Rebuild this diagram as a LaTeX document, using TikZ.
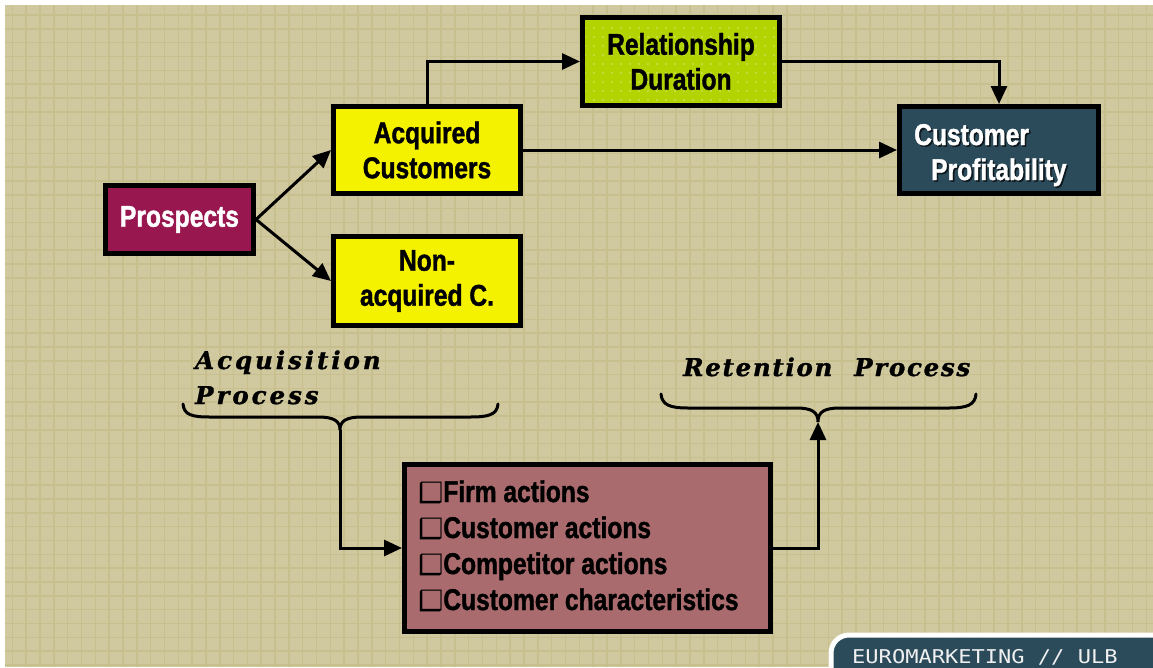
\documentclass[tikz,border=0pt]{standalone}
\usepackage{fontspec}
\usetikzlibrary{arrows.meta,patterns.meta}
\newfontfamily\boxfont[FakeStretch=0.82,FakeBold=1.3]{Liberation Sans}
\newfontfamily\procfont[LetterSpace=12,FakeBold=1.2]{DejaVu Serif}
\newfontfamily\procnarrow[LetterSpace=7,FakeBold=1.2]{DejaVu Serif}
\newfontfamily\symfont{DejaVu Sans}
\newfontfamily\badgefont{DejaVu Sans Mono}
\definecolor{paper}{HTML}{D0C89E}
\definecolor{gridline}{HTML}{C8BF8E}
\definecolor{plum}{HTML}{98174F}
\definecolor{lemon}{HTML}{F5F200}
\definecolor{lime}{HTML}{B3D400}
\definecolor{limedot}{HTML}{D6E87A}
\definecolor{slate}{HTML}{2B4B5A}
\definecolor{rose}{HTML}{AA6B6E}
\tikzset{
  box/.style={draw=black, line width=5pt, inner sep=0pt, align=center,
    font=\boxfont\bfseries\fontsize{30}{35}\selectfont},
  conn/.style={line width=3pt, -{Triangle[length=18pt,width=16pt]}},
  brace/.style={line width=3pt, line cap=round},
  proc/.style={font=\procfont\bfseries\itshape\fontsize{24.5}{35}\selectfont, anchor=base west, inner sep=0pt},
  procn/.style={font=\procnarrow\bfseries\itshape\fontsize{24.5}{35}\selectfont, anchor=base west, inner sep=0pt},
  item/.style={font=\boxfont\bfseries\fontsize{30}{36}\selectfont, anchor=base west, inner sep=0pt},
  lbl/.style={font=\boxfont\bfseries\fontsize{30}{35}\selectfont, anchor=base west, inner sep=0pt},
}
% shadowed check box in front of each list item
\newcommand{\chk}{{\symfont\fontsize{28}{28}\selectfont\reflectbox{\char"2751}}}
\begin{document}
\begin{tikzpicture}[x=1pt,y=-1pt]
\useasboundingbox (0,0) rectangle (1153,667);
% paper with a fine grid
\fill[white] (0,0) rectangle (1153,667);
\fill[paper] (5,5) rectangle (1153,667);
\begin{scope}
  \clip (5,5) rectangle (1153,667);
  \foreach \i in {0,...,83} {
    \draw[gridline, line width=1.5pt] ({12.3+13.83*\i},5) -- ({12.3+13.83*\i},667);
  }
  \foreach \j in {0,...,48} {
    \draw[gridline, line width=1.5pt] (5,{15+13.83*\j}) -- (1153,{15+13.83*\j});
  }
\end{scope}

% boxes
\node[box, fill=plum, text=white, minimum width=148pt, minimum height=68pt] (pro) at (179.5,219.5) {Prospects};
\node[box, fill=lemon, minimum width=187pt, minimum height=87pt] (acq) at (427,150) {Acquired\\Customers};
\node[box, fill=lemon, minimum width=187pt, minimum height=89pt] (non) at (427,281) {Non-\\acquired C.};
\node[box, preaction={fill=lime}, pattern={Dots[distance=9pt,radius=0.8pt]}, pattern color=limedot,
      minimum width=197pt, minimum height=88pt] (rel) at (681,61.5) {Relationship\\Duration};
\node[box, fill=slate, minimum width=199pt, minimum height=87pt] (cp) at (999,150) {};
\node[lbl, text=black!70!slate] (cpas) at (915.5,146.5) {Customer};
\node[lbl, text=white] (cpa) at (914,145) {Customer};
\node[lbl, text=black!70!slate] (cpbs) at (932.5,181.5) {Profitability};
\node[lbl, text=white] (cpb) at (931,180) {Profitability};
\node[box, fill=rose, minimum width=366pt, minimum height=167pt] (fac) at (587.5,548) {};
\node[item] (f1) at (418,502) {\chk Firm actions};
\node[item] (f2) at (418,538) {\chk Customer actions};
\node[item] (f3) at (418,574) {\chk Competitor actions};
\node[item] (f4) at (418,610) {\chk Customer characteristics};

% connectors
\draw[conn] (pro.east) -- (acq.west);
\draw[conn] (pro.east) -- (non.west);
\draw[conn] (acq.north) |- (rel.west);
\draw[conn] (rel.east) -| (cp.north);
\draw[conn] (acq.east) -- (cp.west);

% process labels and braces
\node[proc] (acqa) at (195,369) {Acquisition};
\node[proc] (acqb) at (195,404) {Process};
\node[procn] (reta) at (683,376) {Retention};
\node[procn] (retb) at (854,376) {Process};
\coordinate (acqtip) at (340,430);
\coordinate (rettip) at (818,422);
\draw[brace] (183,404) .. controls (184,415) and (192,417) .. (210,417) -- (318,417)
  .. controls (334,417) and (340,421) .. (acqtip)
  .. controls (340,421) and (346,417) .. (362,417) -- (470,417)
  .. controls (488,417) and (497,415) .. (498,404);
\draw[brace] (661,394) .. controls (662,405) and (670,408) .. (688,408) -- (796,408)
  .. controls (812,408) and (818,412) .. (rettip)
  .. controls (818,412) and (824,408) .. (840,408) -- (949,408)
  .. controls (967,408) and (975,405) .. (976,394);
\draw[conn] (acqtip) |- (fac.west);
\draw[conn] (fac.east) -| (rettip);

% footer badge
\begin{scope}
  \clip (0,0) rectangle (1153,667);
  \draw[white, line width=5pt, fill=slate, rounded corners=18pt] (831,635) rectangle (1190,700);
\end{scope}
\node[font=\badgefont\fontsize{19}{19}\selectfont, text=white!88!gray, anchor=base west, inner sep=0pt] (badge) at (852,663) {\scalebox{1.16}[1]{EUROMARKETING // ULB}};
\end{tikzpicture}
\end{document}
